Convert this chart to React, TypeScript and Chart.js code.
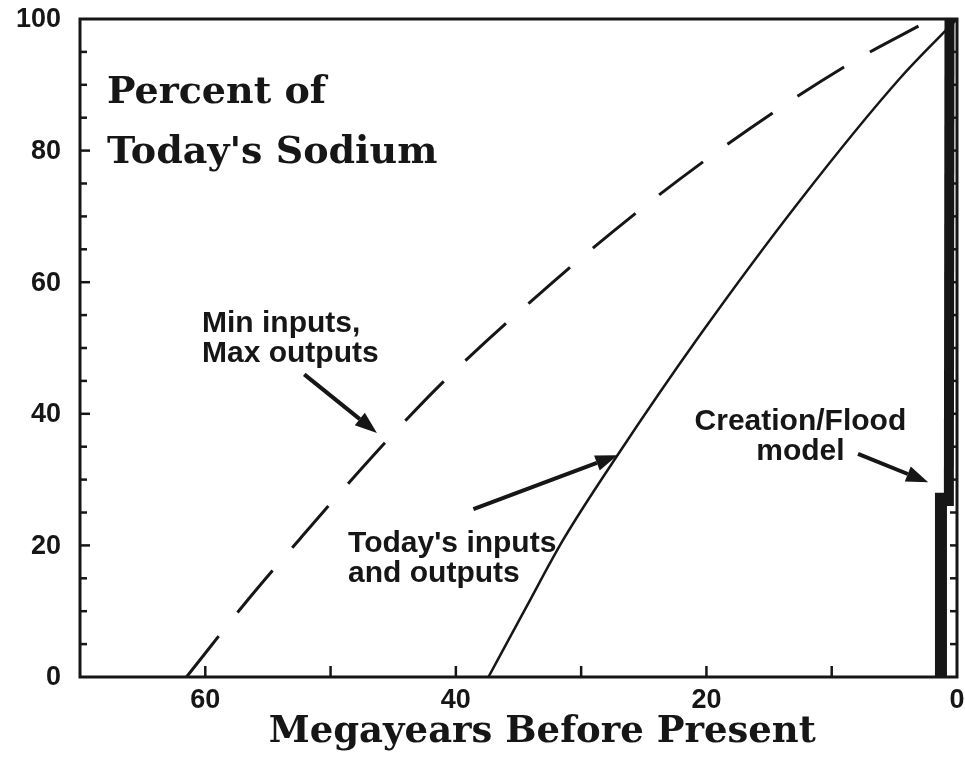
import React, { useEffect, useRef } from 'react';
import { Chart, registerables } from 'chart.js';
Chart.register(...registerables);

// ---- data (Megayears before present vs percent of today's sodium) ----
const minInputsX = [61.5, 56.4, 52.4, 48.5, 43.9, 40.6, 32.5, 24.5, 16.5, 8.5, 2.5];
const minInputsY = [0, 12.2, 21.1, 29.6, 39.2, 45.6, 59.6, 72.2, 83.4, 93.3, 99.5];
const todayX = [37.4, 34.5, 31.45, 27.1, 20.5, 12.5, 4.55, 0];
const todayY = [0, 10.2, 20.8, 33.7, 52.0, 72.5, 91.0, 100];
const floodUpperX = [0.65, 0.6];
const floodUpperY = [26, 100];
const floodLowerX = [1.28, 1.28];
const floodLowerY = [0, 28];
const xTickLabels = [60, 40, 20, 0];
const yTickLabels = [0, 20, 40, 60, 80, 100];
const xTitleText = 'Megayears Before Present';

const INK = '#161616';
const SANS = '"Liberation Sans", Arial, sans-serif';
const SERIF = '"DejaVu Serif", serif';

const pts = (xs: number[], ys: number[]) => xs.map((x, i) => ({ x, y: ys[i] }));

// annotation texts (anchor in data coordinates)
const notes = [
  { lines: ['Min inputs,', 'Max outputs'], x: 60.26, y: 52.4, align: 'left' as CanvasTextAlign },
  { lines: ["Today's inputs", 'and outputs'], x: 48.6, y: 19.0, align: 'left' as CanvasTextAlign },
  { lines: ['Creation/Flood', 'model'], x: 12.5, y: 37.5, align: 'center' as CanvasTextAlign },
];
const arrows = [
  { from: [52.1, 46.0], to: [46.3, 37.1] },
  { from: [38.6, 25.5], to: [27.1, 33.7] },
  { from: [7.9, 33.9], to: [2.3, 29.6] },
];
const yTitle = { lines: ['Percent of', "Today's Sodium"], x: 67.85, y: 87.2 };
const xTitleCenter = 33.1;

const overlay = {
  id: 'overlay',
  beforeDraw(chart: any) {
    const { ctx, width, height } = chart;
    ctx.save();
    ctx.fillStyle = '#fff';
    ctx.fillRect(0, 0, width, height);
    ctx.restore();
  },
  afterDatasetsDraw(chart: any) {
    const { ctx, chartArea: a, scales } = chart;
    const sx = scales.x, sy = scales.y;
    const line = (x1: number, y1: number, x2: number, y2: number) => {
      ctx.beginPath(); ctx.moveTo(x1, y1); ctx.lineTo(x2, y2); ctx.stroke();
    };
    ctx.save();
    ctx.strokeStyle = INK;
    ctx.fillStyle = INK;
    ctx.lineWidth = 3;
    ctx.strokeRect(a.left, a.top, a.right - a.left, a.bottom - a.top);
    ctx.lineWidth = 2.5;
    for (let v = 5; v < 100; v += 5) {
      const py = sy.getPixelForValue(v);
      line(a.left, py, a.left + (v % 20 === 0 ? 10 : 7), py);
      line(a.right, py, a.right - 7, py);
    }
    for (let v = 10; v < 70; v += 10) {
      const px = sx.getPixelForValue(v);
      line(px, a.bottom, px, a.bottom - 11);
    }
    // tick labels
    ctx.font = `bold 27px ${SANS}`;
    ctx.textBaseline = 'middle';
    ctx.textAlign = 'right';
    for (const v of yTickLabels) ctx.fillText(String(v), a.left - 19, sy.getPixelForValue(v) + 1);
    ctx.textAlign = 'center';
    for (const v of xTickLabels) ctx.fillText(String(v), sx.getPixelForValue(v), a.bottom + 24);
    // axis title
    ctx.textBaseline = 'alphabetic';
    ctx.font = `bold 37px ${SERIF}`;
    ctx.fillText(xTitleText, sx.getPixelForValue(xTitleCenter), a.bottom + 65);
    // arrows
    for (const ar of arrows) {
      const x1 = sx.getPixelForValue(ar.from[0]), y1 = sy.getPixelForValue(ar.from[1]);
      const x2 = sx.getPixelForValue(ar.to[0]), y2 = sy.getPixelForValue(ar.to[1]);
      const ang = Math.atan2(y2 - y1, x2 - x1);
      const hl = 22, hw = 8;
      const bx = x2 - hl * Math.cos(ang), by = y2 - hl * Math.sin(ang);
      ctx.lineWidth = 4;
      line(x1, y1, bx, by);
      ctx.beginPath();
      ctx.moveTo(x2, y2);
      ctx.lineTo(bx + hw * Math.sin(ang), by - hw * Math.cos(ang));
      ctx.lineTo(bx - hw * Math.sin(ang), by + hw * Math.cos(ang));
      ctx.closePath();
      ctx.fill();
    }
    // annotation texts
    ctx.font = `bold 30px ${SANS}`;
    for (const n of notes) {
      ctx.textAlign = n.align;
      const px = sx.getPixelForValue(n.x), py = sy.getPixelForValue(n.y);
      n.lines.forEach((t, i) => ctx.fillText(t, px, py + i * 30));
    }
    ctx.textAlign = 'left';
    ctx.font = `bold 38px ${SERIF}`;
    const tx = sx.getPixelForValue(yTitle.x), ty = sy.getPixelForValue(yTitle.y);
    yTitle.lines.forEach((t, i) => ctx.fillText(t, tx, ty + i * 60));
    ctx.restore();
  },
};

export default function App() {
  const ref = useRef<HTMLCanvasElement>(null);
  useEffect(() => {
    document.body.style.margin = '0';
    const chart = new Chart(ref.current!, {
      type: 'line',
      data: {
        datasets: [
          {
            label: 'Min inputs, Max outputs',
            data: pts(minInputsX, minInputsY),
            borderColor: INK,
            borderWidth: 3,
            borderDash: [55, 30],
            borderDashOffset: 3,
            cubicInterpolationMode: 'monotone',
            pointRadius: 0,
          },
          {
            label: "Today's inputs and outputs",
            data: pts(todayX, todayY),
            borderColor: INK,
            borderWidth: 2.5,
            cubicInterpolationMode: 'monotone',
            pointRadius: 0,
          },
          {
            label: 'Creation/Flood model',
            data: pts(floodUpperX, floodUpperY),
            borderColor: INK,
            borderWidth: 10,
            borderCapStyle: 'butt',
            pointRadius: 0,
          },
          {
            label: 'Creation/Flood model (early)',
            data: pts(floodLowerX, floodLowerY),
            borderColor: INK,
            borderWidth: 12,
            borderCapStyle: 'butt',
            pointRadius: 0,
          },
        ],
      },
      options: {
        responsive: false,
        animation: false,
        layout: { padding: { top: 19, right: 8, left: 0, bottom: 0 } },
        plugins: { legend: { display: false }, tooltip: { enabled: false } },
        scales: {
          x: {
            type: 'linear',
            reverse: true,
            min: 0,
            max: 70,
            grid: { display: false, drawTicks: false },
            border: { display: false },
            ticks: { display: false, stepSize: 10 },
            afterFit: (s: any) => { s.height = 82; },
          },
          y: {
            min: 0,
            max: 100,
            grid: { display: false, drawTicks: false },
            border: { display: false },
            ticks: { display: false, stepSize: 20 },
            afterFit: (s: any) => { s.width = 80; },
          },
        },
      },
      plugins: [overlay],
    } as any);
    return () => chart.destroy();
  }, []);
  return (
    <div style={{ width: 965, height: 759, background: '#fff' }}>
      <canvas ref={ref} width={965} height={759} />
    </div>
  );
}
